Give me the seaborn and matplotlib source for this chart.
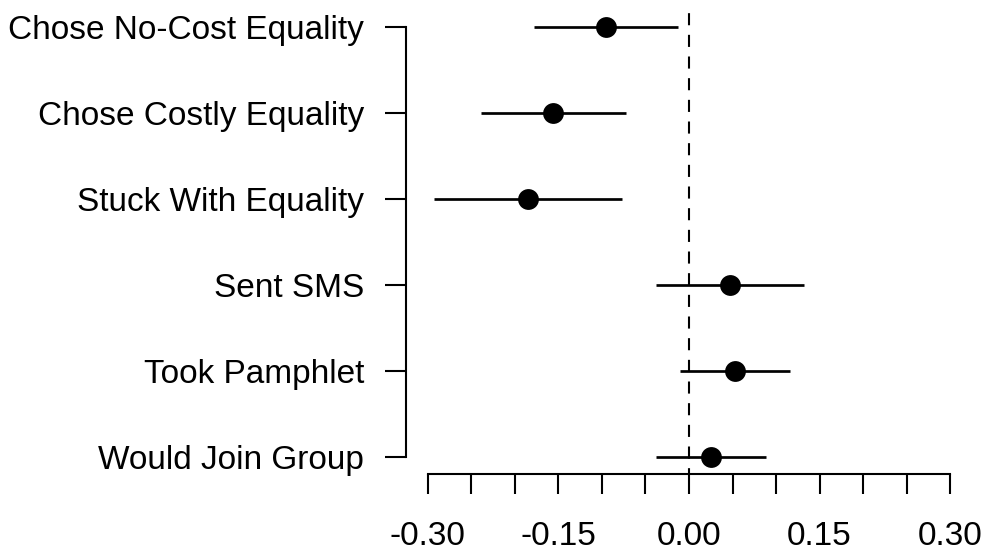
import matplotlib
matplotlib.use("Agg")
import matplotlib.pyplot as plt
import seaborn as sns
import pandas as pd
import numpy as np

# Outcome labels, point estimates and 95% interval bounds
outcomes = ["Chose No-Cost Equality", "Chose Costly Equality", "Stuck With Equality",
            "Sent SMS", "Took Pamphlet", "Would Join Group"]
estimates = [-0.095, -0.156, -0.185, 0.047, 0.053, 0.025]
ci_low = [-0.178, -0.239, -0.293, -0.038, -0.010, -0.038]
ci_high = [-0.013, -0.072, -0.077, 0.132, 0.116, 0.089]
x_ticks = [-0.30, -0.25, -0.20, -0.15, -0.10, -0.05, 0.00, 0.05, 0.10, 0.15, 0.20, 0.25, 0.30]
x_tick_labels = ["-0.30", "", "", "-0.15", "", "", "0.00", "", "", "0.15", "", "", "0.30"]

df = pd.DataFrame({"outcome": outcomes, "estimate": estimates,
                   "low": ci_low, "high": ci_high})

sns.set_style("white")
plt.rcParams["font.family"] = ["Liberation Sans", "DejaVu Sans"]
plt.rcParams["text.color"] = "black"
plt.rcParams["xtick.color"] = "black"
plt.rcParams["ytick.color"] = "black"

fig = plt.figure(figsize=(9.9, 5.54), dpi=100)
ax = fig.add_axes([406 / 990, 80 / 554, 566 / 990, 464 / 554])

lw = 1.5
ypos = np.arange(len(outcomes))
ax.axvline(0, color="black", lw=lw, linestyle=(3, (5.8, 4.6)), zorder=1)
ax.hlines(ypos, df["low"], df["high"], color="black", lw=lw * 1.3, zorder=2)
sns.scatterplot(data=df, x="estimate", y="outcome", ax=ax, color="black",
                s=15 ** 2, edgecolor="black", linewidth=0, zorder=3, legend=False)

ax.set_xlim(-0.325, 0.325)
ax.set_ylim(5.2, -0.2)
ax.set_xlabel("")
ax.set_ylabel("")

ax.set_xticks(x_ticks)
ax.set_xticklabels(x_tick_labels)
ax.set_yticks(ypos)
ax.set_yticklabels(outcomes)

for side in ["top", "right"]:
    ax.spines[side].set_visible(False)
for side in ["left", "bottom"]:
    ax.spines[side].set_color("black")
    ax.spines[side].set_linewidth(lw)
ax.spines["left"].set_bounds(0, 5)
ax.spines["bottom"].set_bounds(-0.30, 0.30)

ax.tick_params(axis="y", direction="out", length=15, width=lw, color="black",
               labelcolor="black", labelsize=24, pad=15, left=True)
ax.tick_params(axis="x", direction="out", length=14.5, width=lw, color="black",
               labelcolor="black", labelsize=24, pad=19, bottom=True)
ax.grid(False)

fig.savefig("out.png", dpi=100)
